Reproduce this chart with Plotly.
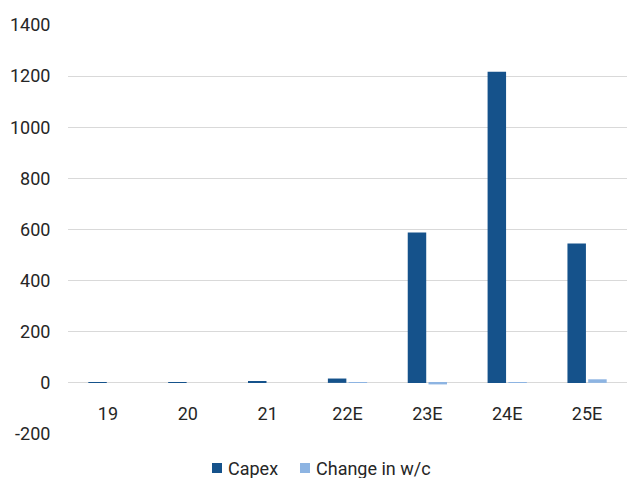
import plotly.graph_objects as go

# Fiscal years (E = estimate)
years = ["19", "20", "21", "22E", "23E", "24E", "25E"]
capex = [2, 2, 6, 17, 588, 1217, 545]
change_wc = [0, 0, 0, 2, -6, 2, 14]

y_ticks = [-200, 0, 200, 400, 600, 800, 1000, 1200, 1400]

series_names = ["Capex", "Change in w/c"]
series_colors = ["#15528B", "#8DB4E2"]

FONT = "Roboto"
TEXT = "#262626"
GRID = "#D9D9D9"

W, H = 627, 478
M_L, M_R, M_T, M_B = 68, 0, 25, 44
PW, PH = W - M_L - M_R, H - M_T - M_B


def px_x(px):
    return (px - M_L) / PW


def px_y(py):
    return (H - M_B - py) / PH


fig = go.Figure()
for name, vals, col in zip(series_names, [capex, change_wc], series_colors):
    fig.add_trace(go.Bar(name=name, x=years, y=vals, marker_color=col,
                         marker_line_width=0))

# Legend row below the plot: coloured square key followed by its label
legend_keys = [(212, series_names[0], series_colors[0]),
               (300, series_names[1], series_colors[1])]
shapes, annotations = [], []
for left, name, col in legend_keys:
    shapes.append(dict(type="rect", xref="paper", yref="paper",
                       x0=px_x(left), x1=px_x(left + 10),
                       y0=px_y(473), y1=px_y(463),
                       fillcolor=col, line=dict(width=0)))
    annotations.append(dict(xref="paper", yref="paper", x=px_x(left + 14),
                            y=px_y(468), text=name, showarrow=False,
                            xanchor="left", yanchor="middle",
                            font=dict(family=FONT, size=18, color=TEXT)))

fig.update_layout(
    width=W,
    height=H,
    margin=dict(l=M_L, r=M_R, t=M_T, b=M_B),
    paper_bgcolor="white",
    plot_bgcolor="white",
    barmode="group",
    bargap=0.48,
    bargroupgap=0.11,
    font=dict(family=FONT, size=18, color=TEXT),
    showlegend=False,
    shapes=shapes,
    annotations=annotations,
    xaxis=dict(
        type="category",
        anchor="free",
        position=(0 - y_ticks[0]) / (y_ticks[-1] - y_ticks[0]),
        showline=False,
        showgrid=False,
        ticks="outside",
        ticklen=15,
        tickcolor="rgba(0,0,0,0)",
        tickfont=dict(family=FONT, size=18, color=TEXT),
    ),
    yaxis=dict(
        range=[y_ticks[0], y_ticks[-1]],
        tickvals=y_ticks,
        ticktext=[str(v) for v in y_ticks],
        showgrid=True,
        gridcolor=GRID,
        gridwidth=1,
        zeroline=True,
        zerolinecolor=GRID,
        zerolinewidth=1,
        showline=False,
        ticks="outside",
        ticklen=13,
        tickcolor="rgba(0,0,0,0)",
        tickfont=dict(family=FONT, size=18, color=TEXT),
    ),
)

fig.write_html("out.html")
